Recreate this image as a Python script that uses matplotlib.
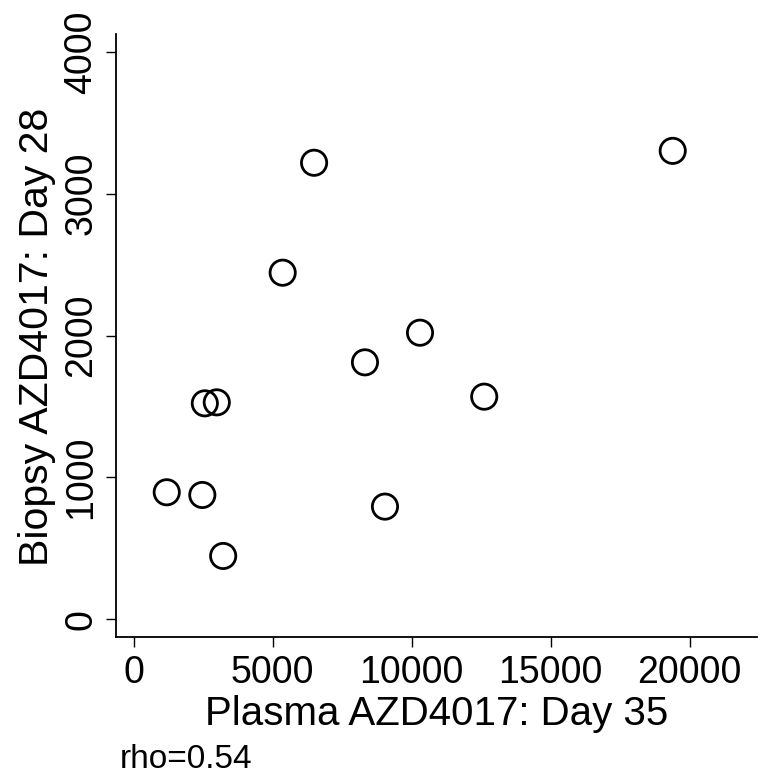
import matplotlib.pyplot as plt

plt.rcParams['font.family'] = ['Liberation Sans', 'DejaVu Sans']

# plasma AZD4017 day 35 vs biopsy AZD4017 day 28
plasma_d35 = [1190, 2470, 3220, 2560, 2990, 5360, 6490, 8320, 9040, 10300, 12610, 19390]
biopsy_d28 = [895, 876, 446, 1522, 1529, 2443, 3218, 1811, 794, 2020, 1569, 3302]

x_ticks = [0, 5000, 10000, 15000, 20000]
y_ticks = [0, 1000, 2000, 3000, 4000]
rho_text = 'rho=0.54'

fig = plt.figure(figsize=(7.6, 7.79), dpi=100)
ax = fig.add_axes([0.1526, 0.1827, 0.8434, 0.7737])

ax.scatter(plasma_d35, biopsy_d28, s=330, facecolors='none',
           edgecolors='black', linewidths=2.0, zorder=3)

ax.set_xlim(-636, 22420)
ax.set_ylim(-123, 4126)
ax.set_xticks(x_ticks)
ax.set_yticks(y_ticks)
ax.set_xticklabels([str(t) for t in x_ticks], fontsize=27)
ax.set_yticklabels([str(t) for t in y_ticks], fontsize=27,
                   rotation=90, va='center')

for side in ['top', 'right']:
    ax.spines[side].set_visible(False)
for side in ['left', 'bottom']:
    ax.spines[side].set_linewidth(1.3)
ax.tick_params(direction='out', length=7.5, width=1.0)
ax.tick_params(axis='x', pad=5.5)
ax.tick_params(axis='y', pad=4.5)

ax.set_xlabel('Plasma AZD4017: Day 35', fontsize=29, labelpad=3)
ax.set_ylabel('Biopsy AZD4017: Day 28', fontsize=29.5)
ax.yaxis.set_label_coords(-0.093, 0.497)

fig.text(0.158, 0.0141, rho_text, fontsize=24, va='baseline')

fig.savefig('out.png', dpi=100)
